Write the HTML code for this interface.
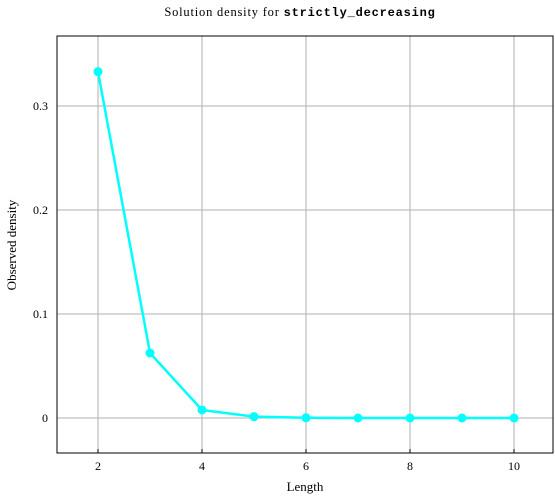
<!DOCTYPE html>
<html><head><meta charset="utf-8"><style>
body{margin:0;background:#fff;}
svg text{font-family:"Liberation Serif",serif;fill:#000;}
</style></head><body>
<svg id="chart" width="555" height="499" viewBox="0 0 555 499" xmlns="http://www.w3.org/2000/svg">
<rect width="555" height="499" fill="#fff"/>
<text x="300" y="16" font-size="12.5" letter-spacing="0.8" text-anchor="middle">Solution density for <tspan font-family="Liberation Mono, monospace" font-weight="bold" font-size="12">strictly_decreasing</tspan></text>
<g id="grid"></g>
<g id="ticks"></g>
<rect x="57" y="36" width="496" height="417" fill="none" stroke="#000" stroke-width="1"/>
<g id="series"></g>
<text x="305" y="491" font-size="13" text-anchor="middle">Length</text>
<text x="16" y="245" font-size="13" text-anchor="middle" transform="rotate(-90 16 245)">Observed density</text>
</svg>
<script>
const lengths=[2,3,4,5,6,7,8,9,10];
const densities=[0.333,0.0625,0.0077,0.0013,0.0002,0,0,0,0];
const xTicks=[2,4,6,8,10];
const yTicks=[0,0.1,0.2,0.3];
const yTickLabels=["0","0.1","0.2","0.3"];
const NS="http://www.w3.org/2000/svg";
function xs(v){return 98+(v-2)*52;}
function ys(v){return 418-v*1040;}
function mk(tag,attrs,parent){const e=document.createElementNS(NS,tag);for(const k in attrs)e.setAttribute(k,attrs[k]);parent.appendChild(e);return e;}
const grid=document.getElementById('grid'),ticks=document.getElementById('ticks'),series=document.getElementById('series');
xTicks.forEach(t=>{
 const l=mk('line',{x1:xs(t),x2:xs(t),y1:36,y2:453,stroke:'#b0b0b0','stroke-width':1},grid);
 
 
 const tk=mk('line',{x1:xs(t),x2:xs(t),y1:453,y2:449,stroke:'#000'},ticks);
 
 
 const tx=mk('text',{x:xs(t),y:470,'font-size':12,'text-anchor':'middle'},ticks);
 tx.textContent=t;
 
 
});
yTicks.forEach((t,i)=>{
 const l=mk('line',{x1:57,x2:553,y1:ys(t),y2:ys(t),stroke:'#b0b0b0','stroke-width':1},grid);
 
 
 const tx=mk('text',{x:48,y:ys(t)+4,'font-size':12,'text-anchor':'end'},ticks);
 tx.textContent=yTickLabels[i];
 
 
});
const pts=lengths.map((v,i)=>xs(v)+','+ys(densities[i])).join(' ');
const pl=mk('polyline',{points:pts,fill:'none',stroke:'#00ffff','stroke-width':2.5,'stroke-linejoin':'round'},series);


lengths.forEach((v,i)=>{
 const c=mk('circle',{cx:xs(v),cy:ys(densities[i]),r:4.5,fill:'#00ffff'},series);
 
 
});
</script>
</body></html>
